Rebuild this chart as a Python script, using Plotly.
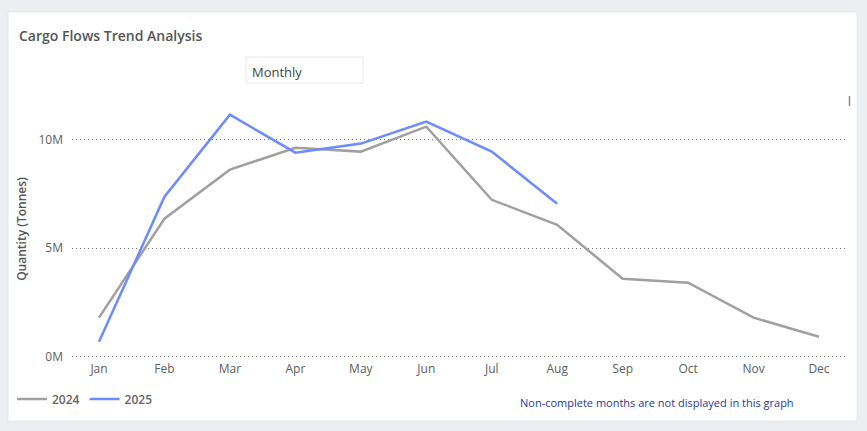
import plotly.graph_objects as go

months = ["Jan", "Feb", "Mar", "Apr", "May", "Jun", "Jul", "Aug", "Sep", "Oct", "Nov", "Dec"]
qty_2024 = [1.80e6, 6.36e6, 8.62e6, 9.63e6, 9.45e6, 10.6e6, 7.23e6, 6.08e6, 3.59e6, 3.41e6, 1.80e6, 0.92e6]
months_2025 = ["Jan", "Feb", "Mar", "Apr", "May", "Jun", "Jul", "Aug"]
qty_2025 = [0.69e6, 7.37e6, 11.15e6, 9.40e6, 9.82e6, 10.83e6, 9.45e6, 7.05e6]
y_ticks = [0, 5e6, 10e6]
y_tick_text = ["0M", "5M", "10M"]

W, H = 867, 431
FONT = "Open Sans"
L, R, T, B = 72, 22, 98, 71
PW, PH = W - L - R, H - T - B

fig = go.Figure()
fig.add_trace(go.Scatter(x=months, y=qty_2024, mode="lines", name="2024",
                         line=dict(color="#a0a0a0", width=2.5)))
fig.add_trace(go.Scatter(x=months_2025, y=qty_2025, mode="lines", name="2025",
                         line=dict(color="#6b8bff", width=2.5)))

def px(x):
    return (x - L) / PW

def py(y):
    return (H - B - y) / PH

shapes = [
    dict(type="rect", xref="paper", yref="paper", x0=px(8), x1=px(857), y0=py(421), y1=py(12),
         fillcolor="white", line=dict(color="#e4e7eb", width=1), layer="below"),
    dict(type="rect", xref="paper", yref="paper", x0=px(246), x1=px(363), y0=py(83), y1=py(57),
         fillcolor="white", line=dict(color="#e8e8e8", width=1)),
    dict(type="line", xref="paper", yref="paper", x0=px(849.5), x1=px(849.5), y0=py(96), y1=py(106),
         line=dict(color="#888888", width=1.5)),
]

annotations = [
    dict(text="Cargo Flows Trend Analysis", xref="paper", yref="paper", x=px(17), y=py(35),
         xanchor="left", yanchor="middle", showarrow=False,
         font=dict(family=FONT, size=14, color="#555555", weight=600)),
    dict(text="Monthly", xref="paper", yref="paper", x=px(250), y=py(72),
         xanchor="left", yanchor="middle", showarrow=False,
         font=dict(family=FONT, size=13, color="#444444")),
    dict(text="Non-complete months are not displayed in this graph", xref="paper", yref="paper",
         x=px(518), y=py(402), xanchor="left", yanchor="middle", showarrow=False,
         font=dict(family=FONT, size=11, color="#1f3a93")),
]

fig.update_layout(
    width=W, height=H,
    paper_bgcolor="#eceef1",
    plot_bgcolor="rgba(0,0,0,0)",
    margin=dict(l=L, r=R, t=T, b=B),
    shapes=shapes,
    annotations=annotations,
    showlegend=True,
    legend=dict(orientation="h", x=px(12), y=py(399), xanchor="left", yanchor="middle",
                bgcolor="rgba(0,0,0,0)", font=dict(family=FONT, size=12, color="#666666", weight=600),
                tracegroupgap=0),
    xaxis=dict(type="category", categoryarray=months, range=[-0.4125, 11.397],
               showgrid=False, zeroline=False, showline=False, ticks="",
               tickfont=dict(family=FONT, size=12, color="#605e5c")),
    yaxis=dict(range=[-0.15e6, 11.92e6], tickvals=y_ticks, ticktext=y_tick_text,
               showgrid=True, gridcolor="#777777", griddash="1px,3px", gridwidth=1,
               zeroline=False, showline=False, ticks="", ticklabelstandoff=8,
               tickfont=dict(family=FONT, size=12, color="#605e5c"),
               title=dict(text="Quantity (Tonnes)", standoff=9,
                          font=dict(family=FONT, size=12, color="#555555", weight=600))),
)

fig.write_html("out.html", config={"displayModeBar": False},
               post_script="document.body.style.margin='0';document.body.style.overflow='hidden';"
                           "document.body.style.background='#eceef1';")
